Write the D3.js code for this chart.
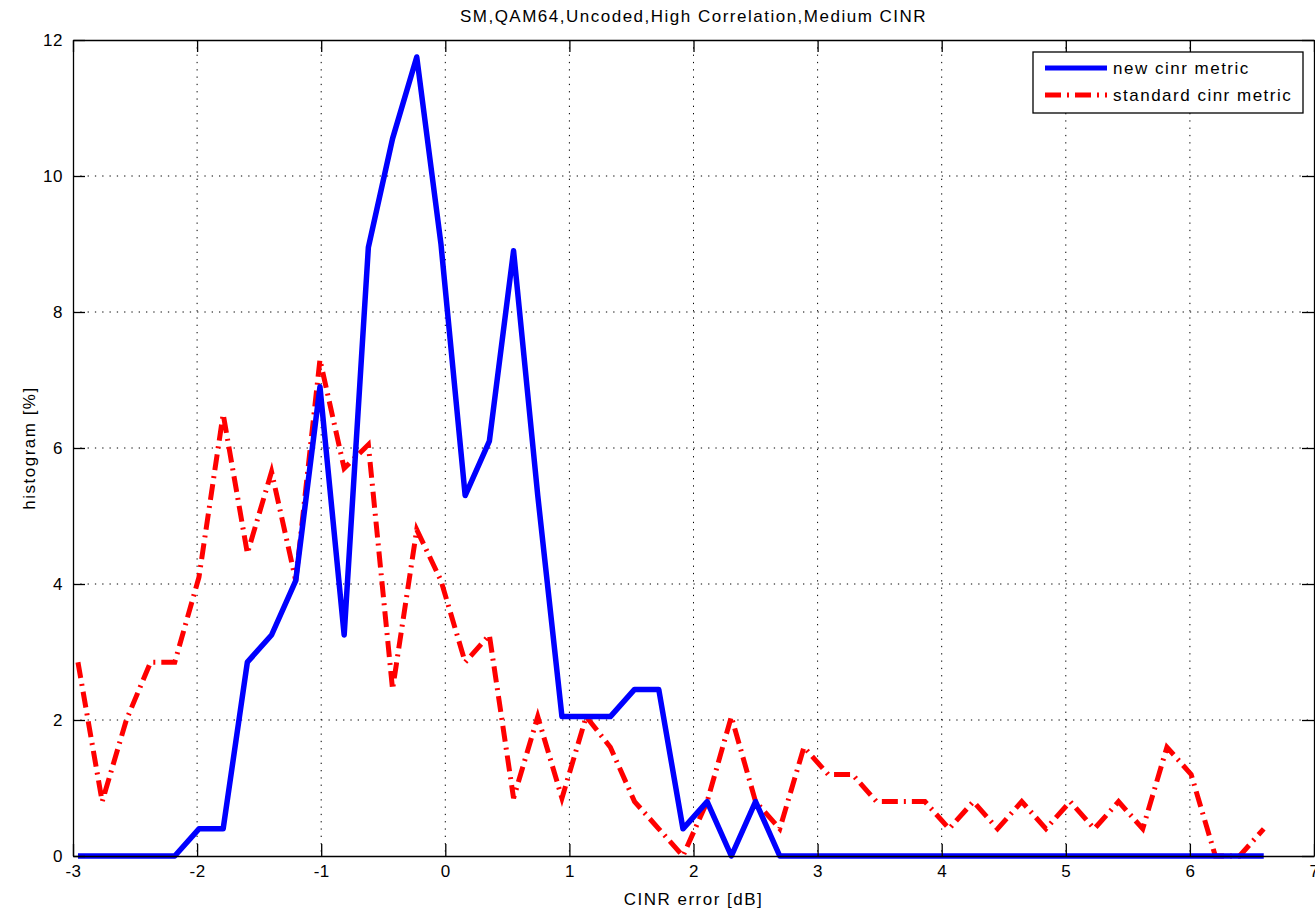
<!DOCTYPE html>
<head>
<meta charset="utf-8">
<title>CINR error histogram</title>
<script type="text/javascript" src="https://d3js.org/d3.v7.min.js"></script>
<style>
  body { margin: 0; background: #fff; }
  svg text { font-family: "Liberation Sans", Arial, Helvetica, sans-serif; fill: #000; }
  .lbl { font-size: 17px; letter-spacing: 1.5px; }
  .tick text { font-size: 17px; letter-spacing: 0.5px; }
</style>
</head>
<body>
<div id="container"></div>

<script>

//------------------------------DATA------------------------------//
const title = "SM,QAM64,Uncoded,High Correlation,Medium CINR";
const xTicks = [-3, -2, -1, 0, 1, 2, 3, 4, 5, 6, 7];
const yTicks = [0, 2, 4, 6, 8, 10, 12];

// bin centres [dB]
const cinrError = [
  -2.96, -2.765, -2.57, -2.375, -2.18, -1.985, -1.79, -1.595, -1.40, -1.205,
  -1.01, -0.815, -0.62, -0.425, -0.23, -0.035, 0.16, 0.355, 0.55, 0.745,
  0.94, 1.135, 1.33, 1.525, 1.72, 1.915, 2.11, 2.305, 2.50, 2.695,
  2.89, 3.085, 3.28, 3.475, 3.67, 3.865, 4.06, 4.255, 4.45, 4.645,
  4.84, 5.035, 5.23, 5.425, 5.62, 5.815, 6.01, 6.205, 6.40, 6.595
];

// histogram [%]
const newMetric = [
  0, 0, 0, 0, 0, 0.4, 0.4, 2.85, 3.25, 4.05,
  6.9, 3.25, 8.95, 10.55, 11.75, 9.0, 5.3, 6.1, 8.9, 5.3,
  2.05, 2.05, 2.05, 2.45, 2.45, 0.4, 0.8, 0, 0.8, 0,
  0, 0, 0, 0, 0, 0, 0, 0, 0, 0,
  0, 0, 0, 0, 0, 0, 0, 0, 0, 0
];

const standardMetric = [
  2.85, 0.8, 2.0, 2.85, 2.85, 4.1, 6.5, 4.45, 5.65, 4.05,
  7.3, 5.7, 6.05, 2.45, 4.8, 4.05, 2.85, 3.25, 0.85, 2.05,
  0.85, 2.05, 1.6, 0.8, 0.4, 0, 0.8, 2.05, 0.8, 0.4,
  1.6, 1.2, 1.2, 0.8, 0.8, 0.8, 0.4, 0.8, 0.4, 0.8,
  0.4, 0.8, 0.4, 0.8, 0.4, 1.6, 1.2, 0, 0, 0.4
];

const seriesNames = ["new cinr metric", "standard cinr metric"];

//-----------------------------SVG------------------------------//
const W = 1315, H = 915;
const margin = {left: 73, top: 40, right: 1, bottom: 59};
const width = W - margin.left - margin.right;
const height = H - margin.top - margin.bottom;
const tickLen = 12;

const svg = d3.select("#container").append("svg")
    .attr("width", W)
    .attr("height", H);

const g = svg.append("g")
    .attr("transform", "translate(" + margin.left + "," + margin.top + ")");

//----------------------------SCALES----------------------------//
const xScale = d3.scaleLinear().domain([-3, 7]).range([0, width]);
const yScale = d3.scaleLinear().domain([0, 12]).range([height, 0]);

//-----------------------------GRID-----------------------------//
g.append("g").selectAll("line")
    .data(xTicks.slice(1, -1))
    .join("line")
    .attr("x1", d => xScale(d)).attr("x2", d => xScale(d))
    .attr("y1", 0).attr("y2", height)
    .attr("stroke", "#000").attr("stroke-width", 1)
    .attr("stroke-dasharray", "1.3,6");

g.append("g").selectAll("line")
    .data(yTicks.slice(1, -1))
    .join("line")
    .attr("y1", d => yScale(d)).attr("y2", d => yScale(d))
    .attr("x1", 0).attr("x2", width)
    .attr("stroke", "#000").attr("stroke-width", 1)
    .attr("stroke-dasharray", "1.3,6");

//-----------------------------AXES-----------------------------//
// matlab style: ticks point inwards, on all four sides, plain hyphen minus
const plain = d => String(d);
const xaxis = d3.axisBottom(xScale).tickValues(xTicks).tickFormat(plain)
    .tickSizeInner(-tickLen).tickSizeOuter(0).tickPadding(9);
const yaxis = d3.axisLeft(yScale).tickValues(yTicks).tickFormat(plain)
    .tickSizeInner(-tickLen).tickSizeOuter(0).tickPadding(10);
const xaxisTop = d3.axisTop(xScale).tickValues(xTicks)
    .tickSizeInner(-tickLen).tickSizeOuter(0).tickFormat("");
const yaxisRight = d3.axisRight(yScale).tickValues(yTicks)
    .tickSizeInner(-tickLen).tickSizeOuter(0).tickFormat("");

//----------------------------LINES-----------------------------//
const line = d3.line()
    .x(d => xScale(d[0]))
    .y(d => yScale(d[1]));

g.append("path")
    .datum(d3.zip(cinrError, standardMetric))
    .attr("fill", "none")
    .attr("stroke", "#ff0000")
    .attr("stroke-width", 5)
    .attr("stroke-dasharray", "16,6,2,6")
    .attr("d", line);

g.append("path")
    .datum(d3.zip(cinrError, newMetric))
    .attr("fill", "none")
    .attr("stroke", "#0000ff")
    .attr("stroke-width", 5.5)
    .attr("stroke-linejoin", "round")
    .attr("d", line);

//--------------------------DRAW AXES---------------------------//
const axes = [
  [xaxis, "translate(0," + height + ")"],
  [yaxis, null],
  [xaxisTop, null],
  [yaxisRight, "translate(" + width + ",0)"]
];
axes.forEach(function(a) {
  const ax = g.append("g").call(a[0]);
  if (a[1]) ax.attr("transform", a[1]);
  ax.attr("font-size", null).attr("font-family", null);
  ax.select(".domain").attr("stroke", "#000").attr("stroke-width", 1.3);
  ax.selectAll(".tick line").attr("stroke", "#000").attr("stroke-width", 1.3);
});

//----------------------------LEGEND----------------------------//
const legend = svg.append("g").attr("transform", "translate(1033,52)");
legend.append("rect")
    .attr("width", 270).attr("height", 61)
    .attr("fill", "#fff").attr("stroke", "#000").attr("stroke-width", 1.3);

const legendStyle = [
  {stroke: "#0000ff", dash: null},
  {stroke: "#ff0000", dash: "16,6,2,6"}
];
seriesNames.forEach(function(name, i) {
  const y = 16 + i * 27;
  legend.append("line")
      .attr("x1", 12).attr("x2", 74)
      .attr("y1", y).attr("y2", y)
      .attr("stroke", legendStyle[i].stroke)
      .attr("stroke-width", 5)
      .attr("stroke-dasharray", legendStyle[i].dash);
  legend.append("text")
      .attr("class", "lbl")
      .attr("x", 80).attr("y", y + 6)
      .text(name);
});

//----------------------------LABELS----------------------------//
svg.append("text")
    .attr("class", "lbl")
    .attr("x", margin.left + width / 2).attr("y", 22)
    .attr("text-anchor", "middle")
    .text(title);

svg.append("text")
    .attr("class", "lbl")
    .attr("x", margin.left + width / 2).attr("y", 905)
    .attr("text-anchor", "middle")
    .text("CINR error [dB]");

svg.append("text")
    .attr("class", "lbl")
    .attr("transform", "translate(35," + (margin.top + height / 2) + ") rotate(-90)")
    .attr("text-anchor", "middle")
    .text("histogram [%]");

</script>
</body>
